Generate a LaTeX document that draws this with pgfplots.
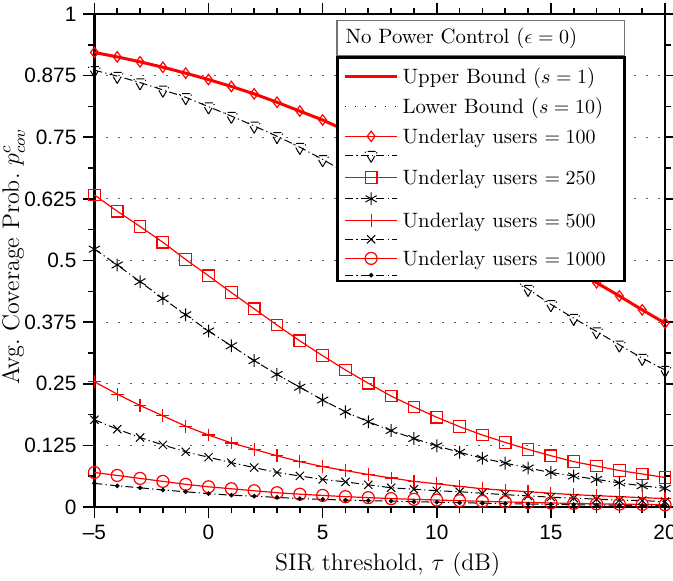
\documentclass[border=0pt]{standalone}
\usepackage{pgfplots}
\pgfplotsset{compat=1.18}
\usepackage{pgfplotstable}
\usepackage{fontspec}
\newfontfamily\ticksf{Liberation Sans}

\pgfplotstableread{
x   u100  l100  u250  l250  u500  l500  u1000  l1000
-5  0.922 0.886 0.633 0.523 0.254 0.177 0.070  0.048
-4  0.913 0.874 0.600 0.491 0.229 0.158 0.064  0.043
-3  0.903 0.861 0.569 0.457 0.206 0.141 0.058  0.039
-2  0.892 0.846 0.537 0.423 0.185 0.126 0.052  0.0345
-1  0.880 0.831 0.502 0.390 0.164 0.112 0.046  0.031
0   0.867 0.812 0.469 0.357 0.146 0.101 0.041  0.027
1   0.853 0.793 0.435 0.327 0.130 0.090 0.037  0.024
2   0.838 0.773 0.402 0.297 0.117 0.080 0.033  0.022
3   0.821 0.752 0.369 0.269 0.104 0.070 0.029  0.0195
4   0.803 0.730 0.337 0.243 0.092 0.063 0.026  0.017
5   0.785 0.705 0.307 0.217 0.082 0.056 0.0235 0.0155
6   0.764 0.679 0.278 0.193 0.074 0.051 0.021  0.014
7   0.741 0.652 0.251 0.173 0.066 0.045 0.019  0.0128
8   0.716 0.624 0.225 0.155 0.059 0.039 0.017  0.012
9   0.689 0.595 0.203 0.139 0.052 0.036 0.0156 0.0108
10  0.660 0.565 0.182 0.124 0.047 0.033 0.0142 0.0098
11  0.630 0.535 0.163 0.111 0.042 0.031 0.0128 0.0088
12  0.600 0.504 0.146 0.099 0.037 0.028 0.0115 0.0078
13  0.570 0.473 0.131 0.089 0.034 0.025 0.0103 0.0069
14  0.540 0.442 0.117 0.079 0.031 0.0225 0.0092 0.0061
15  0.511 0.411 0.104 0.070 0.028 0.020 0.0082 0.0054
16  0.482 0.383 0.092 0.063 0.025 0.018 0.0073 0.0047
17  0.455 0.356 0.083 0.056 0.023 0.016 0.0065 0.0041
18  0.428 0.329 0.074 0.049 0.021 0.014 0.0058 0.0036
19  0.400 0.302 0.067 0.043 0.019 0.013 0.0052 0.0032
20  0.373 0.278 0.060 0.038 0.017 0.011 0.0046 0.0028
}\data

\pgfplotsset{
  redser/.style={color=red, line width=0.6pt, solid, mark options={solid, line width=0.6pt, fill=none}},
  blkser/.style={color=black, line width=0.5pt, dash pattern=on 4pt off 1.6pt on 0.6pt off 1.6pt, mark options={solid, line width=0.5pt}},
}
\newcommand{\tstrut}{\rule[-4pt]{0pt}{15pt}}

\begin{document}
\begin{tikzpicture}
\begin{axis}[
  scale only axis, width=285.3pt, height=246.5pt,
  xmin=-5, xmax=20, ymin=0, ymax=1,
  xtick={-5,0,5,10,15,20}, xticklabels={–5,0,5,10,15,20},
  ytick={0,0.125,0.25,0.375,0.5,0.625,0.75,0.875,1},
  yticklabels={0,0.125,0.25,0.375,0.5,0.625,0.75,0.875,1},
  minor x tick num=4, minor y tick num=1,
  tick align=outside, major tick length=5.5pt, minor tick length=3pt,
  tick style={black, line width=0.8pt},
  tick label style={font=\ticksf\fontsize{10.4}{12}\selectfont},
  axis line style={line width=1.2pt},
  ymajorgrids,
  grid style={line width=0.6pt, black!65, dash pattern=on 0.7pt off 5.3pt},
  xlabel={SIR threshold, $\tau$ (dB)},
  ylabel={Avg.\ Coverage Prob.\ $p^{c}_{cov}$},
  every axis x label/.style={at={([xshift=4pt,yshift=-22.5pt]axis description cs:0.5,0)}, anchor=north, inner sep=0pt, font=\fontsize{12}{14}\selectfont},
  every axis y label/.style={at={([xshift=-34.5pt,yshift=2pt]axis description cs:0,0.5)}, rotate=90, anchor=south, inner sep=0pt, font=\fontsize{12}{14}\selectfont},
  clip=false,
  legend cell align=left,
  legend style={at={(axis cs:5.6,0.9148)}, anchor=north west, draw=black, line width=1.3pt,
    fill=white, inner xsep=3pt, inner ysep=2pt,
    font=\fontsize{10.4}{12}\selectfont,
    nodes={inner xsep=2pt, inner ysep=0pt, text depth=}},
  legend image code/.code={\draw[mark repeat=2,mark phase=2] plot coordinates {(0pt,0pt) (13pt,0pt) (26pt,0pt)};},
]
\addlegendimage{red, solid, line width=1.5pt}
\addlegendentry{\tstrut Upper Bound ($s=1$)}
\addlegendimage{black, line width=0.6pt, dash pattern=on 0.6pt off 4.4pt}
\addlegendentry{\tstrut\makebox[106pt][l]{Lower Bound ($s=10$)}}

\addplot[red, solid, line width=1.5pt, forget plot] table[x=x, y=u100] {\data};

\addplot[redser, mark=diamond, mark size=2.6pt] table[x=x, y=u100] {\data};
\addlegendentry{\tstrut Underlay users $=100$}
\addplot[blkser, mark=triangle, mark size=3.7pt, mark options={rotate=180}] table[x=x, y=l100] {\data};
\addlegendentry{}
\addplot[redser, mark=square, mark size=2.9pt] table[x=x, y=u250] {\data};
\addlegendentry{\tstrut Underlay users $=250$}
\addplot[blkser, mark=asterisk, mark size=3.2pt] table[x=x, y=l250] {\data};
\addlegendentry{}
\addplot[redser, mark=+, mark size=3.2pt] table[x=x, y=u500] {\data};
\addlegendentry{\tstrut Underlay users $=500$}
\addplot[blkser, mark=x, mark size=2.9pt] table[x=x, y=l500] {\data};
\addlegendentry{}
\addplot[redser, mark=o, mark size=3pt] table[x=x, y=u1000] {\data};
\addlegendentry{\tstrut Underlay users $=1000$}
\addplot[blkser, mark=*, mark size=0.9pt] table[x=x, y=l1000] {\data};
\addlegendentry{}

\node[draw=black!55, line width=0.6pt, fill=white, anchor=south west,
  minimum height=17.5pt, inner xsep=4.3pt, inner ysep=0pt,
  font=\fontsize{10.4}{12}\selectfont]
  at (axis cs:5.6,0.9148) {\makebox[135pt][l]{No Power Control ($\epsilon=0$)}};
\end{axis}
\pgfresetboundingbox
\path[use as bounding box] ([shift={(-47.2pt,-36.5pt)}]current axis.south west) rectangle ([shift={(4pt,7pt)}]current axis.north east);
\end{tikzpicture}
\end{document}
